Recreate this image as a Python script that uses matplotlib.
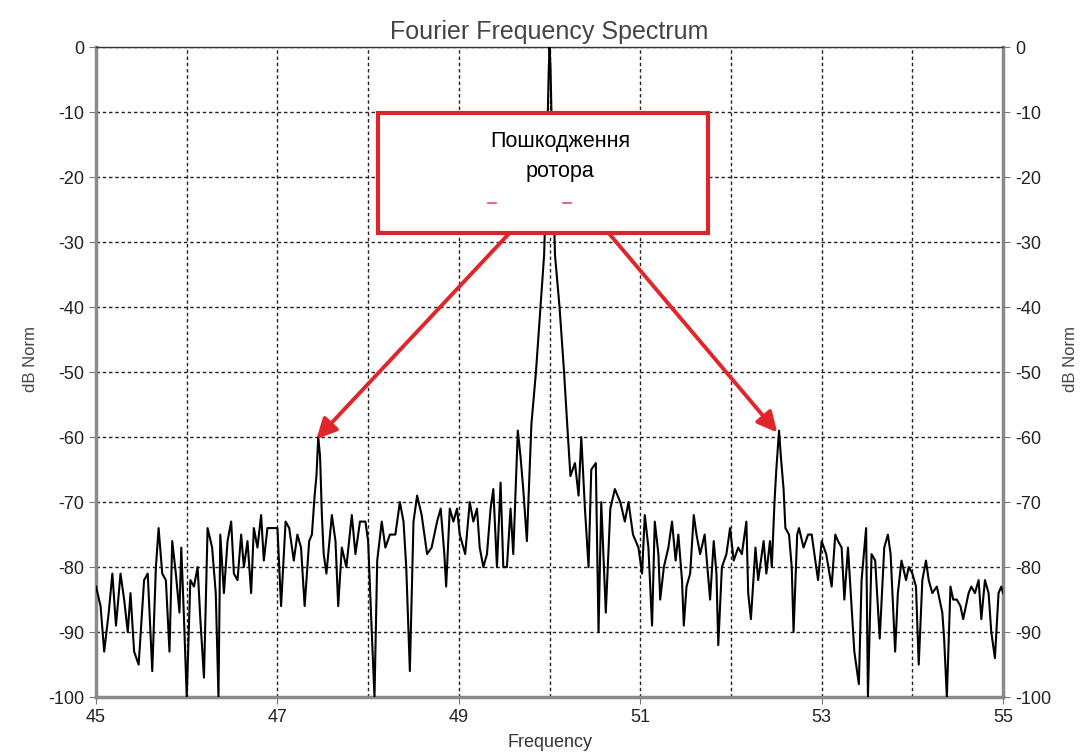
import numpy as np
import matplotlib
matplotlib.use("Agg")
import matplotlib.pyplot as plt
from matplotlib.patches import Rectangle

plt.rcParams['font.family'] = ['Liberation Sans', 'DejaVu Sans']
plt.rcParams['axes.unicode_minus'] = False

# spectrum samples: frequency (Hz) and normalised level (dB)
freq = [
    45.00, 45.05, 45.09, 45.14, 45.18, 45.22, 45.27, 45.31, 45.35, 45.38,
    45.42, 45.47, 45.53, 45.57, 45.62, 45.66, 45.69, 45.73, 45.77, 45.81,
    45.84, 45.88, 45.92, 45.94, 45.97, 46.00, 46.04, 46.08, 46.12, 46.15,
    46.19, 46.23, 46.28, 46.32, 46.35, 46.37, 46.41, 46.45, 46.49, 46.52,
    46.56, 46.60, 46.63, 46.67, 46.71, 46.74, 46.78, 46.82, 46.85, 46.89,
    46.94, 47.00, 47.04, 47.09, 47.13, 47.18, 47.22, 47.26, 47.30, 47.35,
    47.38, 47.41, 47.43, 47.45, 47.47, 47.49, 47.51, 47.54, 47.60, 47.64,
    47.67, 47.71, 47.76, 47.82, 47.86, 47.91, 47.97, 48.00, 48.04, 48.07,
    48.10, 48.15, 48.19, 48.24, 48.30, 48.35, 48.39, 48.42, 48.46, 48.50,
    48.54, 48.59, 48.65, 48.70, 48.76, 48.80, 48.84, 48.86, 48.90, 48.94,
    48.98, 49.01, 49.07, 49.12, 49.16, 49.20, 49.23, 49.27, 49.31, 49.35,
    49.38, 49.42, 49.46, 49.49, 49.53, 49.57, 49.60, 49.65, 49.68, 49.71,
    49.75, 49.78, 49.80, 49.85, 49.90, 49.94, 49.97, 49.99, 50.00, 50.01,
    50.03, 50.06, 50.11, 50.16, 50.19, 50.23, 50.28, 50.32, 50.35, 50.39,
    50.43, 50.46, 50.51, 50.54, 50.57, 50.62, 50.67, 50.72, 50.78, 50.83,
    50.87, 50.92, 50.98, 51.02, 51.05, 51.09, 51.13, 51.16, 51.20, 51.22,
    51.26, 51.31, 51.35, 51.39, 51.42, 51.46, 51.48, 51.51, 51.55, 51.59,
    51.62, 51.66, 51.71, 51.77, 51.81, 51.84, 51.86, 51.90, 51.95, 51.99,
    52.03, 52.08, 52.12, 52.17, 52.19, 52.22, 52.27, 52.30, 52.36, 52.39,
    52.43, 52.45, 52.48, 52.50, 52.53, 52.55, 52.58, 52.60, 52.64, 52.67,
    52.69, 52.73, 52.75, 52.80, 52.85, 52.89, 52.93, 52.96, 53.00, 53.05,
    53.11, 53.15, 53.18, 53.22, 53.25, 53.29, 53.33, 53.36, 53.41, 53.44,
    53.49, 53.51, 53.55, 53.59, 53.64, 53.69, 53.73, 53.76, 53.81, 53.84,
    53.88, 53.93, 53.96, 54.00, 54.04, 54.07, 54.11, 54.15, 54.18, 54.22,
    54.27, 54.33, 54.35, 54.38, 54.42, 54.45, 54.49, 54.53, 54.56, 54.62,
    54.65, 54.69, 54.73, 54.76, 54.80, 54.84, 54.87, 54.91, 54.95, 54.98,
    55.00,
]
level_db = [
    -83, -86, -93, -87, -81, -89, -81, -85, -90, -84,
    -93, -95, -82, -81, -96, -80, -74, -81, -82, -93,
    -76, -81, -87, -77, -88, -100, -82, -83, -80, -88,
    -97, -74, -77, -84, -100, -75, -84, -76, -73, -81,
    -82, -75, -80, -76, -84, -74, -77, -72, -79, -74,
    -74, -74, -86, -73, -74, -79, -75, -77, -86, -76,
    -75, -69, -66, -60, -63, -72, -78, -81, -72, -76,
    -86, -77, -80, -72, -78, -73, -73, -76, -90, -100,
    -79, -73, -77, -75, -75, -70, -73, -80, -96, -73,
    -69, -72, -78, -77, -73, -71, -78, -83, -71, -73,
    -71, -75, -78, -70, -73, -71, -77, -80, -78, -71,
    -68, -80, -67, -80, -80, -71, -78, -59, -63, -68,
    -76, -65, -58, -50, -40, -32, -18, -4, 0, -3,
    -16, -32, -40, -50, -57, -66, -64, -69, -60, -71,
    -80, -65, -64, -90, -70, -87, -71, -68, -70, -73,
    -70, -75, -77, -81, -72, -77, -89, -73, -78, -85,
    -80, -77, -73, -79, -75, -82, -89, -83, -81, -72,
    -75, -78, -75, -85, -76, -81, -92, -80, -78, -74,
    -79, -77, -78, -73, -84, -88, -77, -82, -76, -81,
    -76, -80, -70, -65, -59, -63, -68, -74, -75, -80,
    -90, -75, -74, -77, -75, -75, -79, -82, -76, -78,
    -83, -75, -76, -77, -85, -77, -86, -93, -98, -82,
    -74, -100, -78, -79, -91, -77, -75, -78, -93, -84,
    -79, -82, -80, -81, -83, -95, -82, -79, -82, -84,
    -83, -87, -91, -100, -83, -85, -85, -86, -88, -84,
    -83, -84, -82, -88, -82, -84, -90, -94, -84, -83,
    -84,
]

# rotor fault sidebands the arrows point at
sideband_freq = [47.45, 52.53]
sideband_db = [-60, -59]

x_ticks = [45, 47, 49, 51, 53, 55]
y_ticks = list(range(-100, 1, 10))

fig = plt.figure(figsize=(10.85, 7.52), dpi=100)
ax = fig.add_axes([0.0885, 0.073, 0.836, 0.8645])

ax.plot(freq, level_db, color='black', lw=1.5, zorder=3)

ax.set_xlim(45, 55)
ax.set_ylim(-100, 0)
ax.set_xticks(x_ticks)
ax.set_xticks(np.arange(46, 55, 2), minor=True)
ax.set_yticks(y_ticks)
ax.grid(True, which='both', linestyle=(0, (2.5, 2)), color='#222222', lw=1.0)
ax.tick_params(axis='both', which='both', direction='out', length=5,
               color='#777777', labelsize=13, labelcolor='#222222')
ax.tick_params(axis='x', which='minor', length=0)

for side in ['left', 'bottom', 'right']:
    ax.spines[side].set_color('#8a8a8a')
    ax.spines[side].set_linewidth(2.5)
ax.spines['top'].set_color('#333333')
ax.spines['top'].set_linewidth(1.0)

ax.set_xlabel('Frequency', fontsize=13, color='#333333', labelpad=6)
ax.set_ylabel('dB Norm', fontsize=12, color='#444444')
ax.yaxis.set_label_coords(-0.064, 0.52)
ax.set_title('Fourier Frequency Spectrum', fontsize=18, color='#444444', pad=6)

# right-hand copy of the dB scale
ax2 = ax.twinx()
ax2.set_ylim(-100, 0)
ax2.set_yticks(y_ticks)
ax2.tick_params(axis='y', direction='out', length=5, color='#777777',
                labelsize=13, labelcolor='#222222')
ax2.set_ylabel('dB Norm', fontsize=12, color='#444444')
ax2.yaxis.set_label_coords(1.066, 0.52)
for side in ax2.spines:
    ax2.spines[side].set_visible(False)

# callout box
red = '#e0262b'
box = Rectangle((48.11, -28.6), 3.64, 18.45, facecolor='white',
                edgecolor='#d8262b', lw=3, zorder=5)
ax.add_patch(box)
ax.text(50.12, -12.9, 'Пошкодження\nротора', ha='center', va='top',
        fontsize=15.5, color='black', linespacing=1.55, zorder=6)
ax.plot([49.32, 49.41], [-24, -24], color='#e05060', lw=1.2, zorder=6)
ax.plot([50.15, 50.24], [-24, -24], color='#e05060', lw=1.2, zorder=6)

starts = [(49.56, -28.6), (50.65, -28.6)]
for (sx, sy), fx, fy in zip(starts, sideband_freq, sideband_db):
    ax.annotate('', xy=(fx - 0.02, fy - 0.3), xytext=(sx, sy),
                arrowprops=dict(arrowstyle='-|>', color=red, lw=2.8,
                                mutation_scale=30, shrinkA=0, shrinkB=0),
                zorder=4)

fig.savefig('out.png', dpi=100)
